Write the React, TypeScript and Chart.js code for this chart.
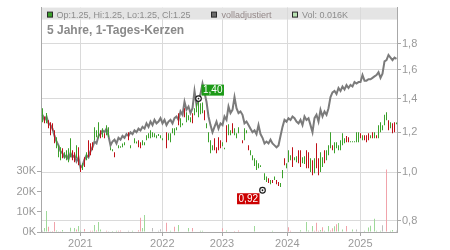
import React, { useEffect, useRef } from 'react';
import { Chart, registerables } from 'chart.js';

Chart.register(...registerables);

const FONT = '"Liberation Sans", Arial, Helvetica, sans-serif';

// ---- axis labels / texts ----
const yearLabels = ['2021', '2022', '2023', '2024', '2025'];
const yearPos = [18.9, 59.9, 89.75, 122.4, 158.9]; // slot index where each year starts
const priceTicks = [0.8, 1.0, 1.2, 1.4, 1.6, 1.8];
const volTicks = [0, 10000, 20000, 30000];
const titleText = '5 Jahre, 1-Tages-Kerzen';
const legendOhlc = 'Op:1.25, Hi:1.25, Lo:1.25, Cl:1.25';
const legendAdj = 'volladjustiert';
const legendVol = 'Vol: 0.016K';

// ---- series (one slot ≈ a few trading days) ----
const adjusted = [
  1.30, 1.27, 1.29, 1.25, 1.24, 1.22, 1.18, 1.15, 1.13, 1.10,
  1.09, 1.07, 1.08, 1.06, 1.09, 1.07, 1.08, 1.05, 1.07, 1.02,
  1.03, 1.06, 1.08, 1.07, 1.10, 1.12, 1.15, 1.14, 1.18, 1.19,
  1.21, 1.20, 1.22, 1.18, 1.13, 1.15, 1.16, 1.14, 1.17, 1.16,
  1.18, 1.17, 1.19, 1.18, 1.20, 1.19, 1.21, 1.20, 1.22, 1.21,
  1.23, 1.22, 1.25, 1.23, 1.26, 1.24, 1.27, 1.25, 1.26, 1.28,
  1.25, 1.27, 1.24, 1.26, 1.27, 1.25, 1.28, 1.29, 1.27, 1.32,
  1.30, 1.38, 1.33, 1.35, 1.31, 1.34, 1.45, 1.36, 1.40, 1.43,
  1.50, 1.44, 1.38, 1.29, 1.24, 1.20, 1.23, 1.26, 1.22, 1.25,
  1.24, 1.29, 1.27, 1.35, 1.31, 1.33, 1.41, 1.34, 1.31, 1.32,
  1.30, 1.25, 1.26, 1.24, 1.22, 1.20, 1.21, 1.19, 1.24, 1.19,
  1.17, 1.14, 1.15, 1.14, 1.16, 1.14, 1.13, 1.12, 1.13, 1.18,
  1.23, 1.27, 1.26, 1.28, 1.27, 1.29, 1.28, 1.26, 1.25, 1.27,
  1.24, 1.29, 1.27, 1.28, 1.24, 1.20, 1.28, 1.30, 1.26, 1.33,
  1.29, 1.32, 1.30, 1.34, 1.41, 1.44, 1.45, 1.43, 1.47, 1.45,
  1.48, 1.46, 1.49, 1.47, 1.49, 1.48, 1.51, 1.50, 1.51, 1.51,
  1.56, 1.52, 1.52, 1.53, 1.53, 1.54, 1.55, 1.56, 1.58, 1.54,
  1.57, 1.66, 1.67, 1.71, 1.69, 1.67, 1.69, 1.68,
];

const candleHigh = [
  1.34, 1.29, 1.31, 1.268, 1.256, 1.25, 1.211, 1.173, 1.131, 1.12,
  1.115, 1.095, 1.105, 1.115, 1.168, 1.105, 1.095, 1.131, 1.12, 1.032,
  1.041, 1.07, 1.095, 1.157, 1.141, 1.146, 1.228, 1.211, 1.256, 1.211,
  1.222, 1.195, 1.239, 1.228, 1.12, 1.11, 1.095, null, 1.131, 1.125,
  1.14, 1.146, null, 1.20, 1.131, null, 1.168, 1.15, 1.157, 1.146,
  1.157, 1.146, 1.184, 1.195, 1.211, 1.20, 1.195, 1.184, 1.19, 1.184,
  1.168, null, 1.20, 1.195, 1.195, 1.222, 1.222, 1.228, 1.309, 1.28,
  1.25, 1.339, 1.315, 1.297, 1.285, 1.309, 1.339, 1.37, 1.40, 1.37,
  1.375, 1.327, 1.25, 1.20, 1.157, 1.131, 1.168, 1.12, 1.173, 1.157,
  1.146, 1.118, 1.239, 1.245, 1.211, 1.25, 1.222, 1.195, 1.228, null,
  1.157, 1.222, 1.211, 1.131, 1.105, 1.08, 1.065, 1.056, 1.041, 1.032,
  0.93, 0.995, 0.98, 0.972, 0.964, 0.964, 0.98, 0.964, 0.955, 0.951,
  1.009, 1.065, 1.041, 1.105, 1.08, 1.12, 1.07, 1.075, 1.105, 1.105,
  1.07, 1.075, 1.105, 1.095, 1.065, 1.056, 1.065, 1.141, 1.065, 1.095,
  1.07, 1.105, 1.105, 1.131, 1.20, 1.131, 1.146, 1.146, 1.131, 1.157,
  1.195, 1.168, 1.179, 1.173, 1.152, 1.152, 1.152, 1.20, 1.20, 1.195,
  1.184, 1.184, 1.184, 1.195, 1.184, 1.20, 1.20, 1.184, 1.239, 1.256,
  1.239, 1.30, 1.315, 1.268, 1.256, 1.25, 1.256, 1.255,
];

const candleLow = [
  1.256, 1.25, 1.25, 1.222, 1.184, 1.21, 1.141, 1.115, 1.07, 1.056,
  1.065, 1.065, 1.056, 1.046, 1.07, 1.056, 1.046, 1.065, 1.032, 1.0,
  1.009, 1.023, 1.056, 1.07, 1.08, 1.105, 1.157, 1.173, 1.168, 1.168,
  1.173, 1.168, 1.184, 1.173, 1.105, 1.10, 1.07, null, 1.115, 1.118,
  1.12, 1.131, null, 1.157, 1.115, null, 1.141, 1.14, 1.12, 1.115,
  1.131, 1.131, 1.157, 1.168, 1.168, 1.173, 1.173, 1.168, 1.179, 1.168,
  1.157, null, 1.115, 1.157, 1.146, 1.195, 1.184, 1.211, 1.239, 1.228,
  1.239, 1.285, 1.256, 1.268, 1.256, 1.25, 1.297, 1.315, 1.285, 1.303,
  1.309, 1.268, 1.222, 1.146, 1.09, 1.105, 1.105, 1.09, 1.105, 1.115,
  1.125, 1.11, 1.146, 1.184, 1.184, 1.195, 1.184, 1.168, 1.195, null,
  1.141, 1.157, 1.195, 1.105, 1.08, 1.056, 1.028, 1.009, 1.018, 1.023,
  0.92, 0.964, 0.955, 0.951, 0.946, 0.951, 0.964, 0.946, 0.938, 0.934,
  0.972, 1.032, 1.018, 1.046, 1.056, 1.023, 1.056, 1.046, 1.041, 1.023,
  1.041, 1.037, 1.018, 1.018, 1.0, 0.986, 0.995, 1.018, 0.986, 1.0,
  1.023, 1.041, 1.056, 1.08, 1.115, 1.105, 1.09, 1.115, 1.105, 1.105,
  1.131, 1.141, 1.146, 1.146, 1.146, 1.146, 1.146, 1.146, 1.146, 1.168,
  1.157, 1.157, 1.146, 1.157, 1.168, 1.168, 1.168, 1.168, 1.168, 1.20,
  1.211, 1.239, 1.268, 1.211, 1.222, 1.195, 1.20, 1.245,
];

// 1 = up (green), -1 = down (red), 0 = no trade
const candleDir = [
  1, -1, 1, -1, -1, -1, -1, 1, 1, 1,
  -1, 1, 1, 1, 1, -1, -1, 1, -1, -1,
  1, -1, 1, -1, -1, -1, 1, 1, 1, -1,
  1, -1, 1, 1, 1, 1, -1, 0, 1, 1,
  1, 1, 0, -1, 1, 0, 1, 1, -1, -1,
  1, 1, 1, 1, 1, 1, 1, 1, 1, 1,
  1, 0, -1, 1, 1, 1, 1, 1, -1, 1,
  1, -1, 1, 1, 1, -1, 1, 1, 1, 1,
  1, -1, 1, 1, 1, 1, -1, -1, -1, -1,
  1, 1, -1, 1, 1, -1, 1, 1, 1, 0,
  -1, 1, 1, -1, 1, 1, 1, 1, 1, 1,
  1, 1, 1, -1, 1, -1, 1, -1, -1, 1,
  1, -1, 1, 1, 1, -1, 1, 1, -1, -1,
  1, 1, -1, -1, 1, -1, 1, -1, -1, 1,
  1, -1, 1, 1, 1, -1, 1, 1, 1, 1,
  1, 1, -1, -1, 1, 1, 1, 1, 1, -1,
  1, -1, -1, -1, 1, -1, 1, -1, 1, 1,
  1, 1, 1, -1, 1, -1, -1, 1,
];

// volume bars (sparse): slot, amount, side (1 up, -1 down, 0 unchanged)
const volSlot = [
  0, 1, 2, 3, 4, 5, 6, 7, 8, 9, 10, 14, 16, 17, 18, 19, 21, 23, 24, 25,
  26, 27, 28, 29, 30, 32, 33, 35, 37, 38, 39, 40, 43, 44, 45, 47, 48, 49, 50, 51,
  54, 55, 56, 58, 59, 62, 63, 64, 66, 68, 73, 75, 79, 80, 83, 84, 90, 92, 96, 98,
  100, 103, 106, 113, 115, 116, 123, 124, 128, 129, 132, 133, 135, 136, 137, 138, 139, 140, 141, 143,
  144, 145, 146, 147, 148, 150, 152, 154, 155, 157, 161, 163, 164, 166, 167, 169, 170, 172, 174, 175,
  176, 177,
];
const volAmount = [
  600, 2000, 10400, 2600, 400, 500, 5000, 800, 400, 400, 1000, 2100, 2000, 1300, 3000, 600, 1500, 300, 600, 600,
  3500, 700, 5000, 1200, 300, 600, 400, 500, 600, 600, 700, 300, 600, 300, 600, 300, 900, 7000, 2000, 8400,
  300, 2000, 300, 600, 1400, 4600, 300, 600, 2600, 3500, 2000, 2000, 600, 600, 300, 300, 1800, 700, 500, 700,
  300, 300, 3000, 300, 600, 300, 2300, 600, 300, 900, 5000, 800, 3000, 600, 4600, 600, 1000, 2300, 600, 3000,
  800, 1800, 2800, 3800, 4500, 1200, 3000, 300, 1200, 1200, 600, 2200, 3100, 6600, 600, 600, 3400, 31000, 600, 1000,
  300, 600,
];
const volSide = [
  0, 1, 1, -1, 0, -1, -1, 1, 0, -1, 1, 1, 1, -1, 1, 1, -1, -1, -1, -1,
  1, -1, 1, 1, -1, -1, 0, 1, 1, -1, -1, 0, 0, -1, 1, -1, -1, -1, 1, 1,
  0, 0, 0, 0, 0, -1, 0, 1, -1, 1, 1, -1, 1, 1, 1, 1, -1, 1, -1, -1,
  -1, 0, 1, -1, 1, 1, -1, -1, -1, 1, 1, 1, 1, -1, -1, -1, 1, -1, 1, 1,
  -1, -1, 1, -1, 1, 1, -1, 0, 1, 0, 1, 1, 1, 1, 1, 1, 0, -1, 1, 1,
  0, 0,
];

const highMark = { slot: 78, value: 1.4, label: '1,40' };
const lowMark = { slot: 110, value: 0.92, label: '0,92' };

const GREEN = '#3ba12b';
const RED = '#bf1018';
const VOL_COLORS: Record<string, string> = { '1': '#9fd99a', '-1': '#f1a3ab', '0': '#bdbdbd' };
const GRID = '#dadada';
const AXIS = '#a8a8a8';
const TICK_TEXT = '#9a9a9a';

export default function App() {
  const ref = useRef<HTMLCanvasElement | null>(null);

  useEffect(() => {
    const canvas = ref.current;
    if (!canvas) return;

    const candleData: any[] = [];
    const candleColors: string[] = [];
    candleHigh.forEach((h, i) => {
      const l = candleLow[i];
      if (h == null || l == null || candleDir[i] === 0) return;
      candleData.push({ x: i, y: [l, h] });
      candleColors.push(candleDir[i] > 0 ? GREEN : RED);
    });
    const lineData = adjusted.map((v, i) => ({ x: i, y: v }));
    const volData = volSlot.map((s, k) => ({ x: s, y: volAmount[k] }));
    const volColors = volSide.map((s) => VOL_COLORS[String(s)]);

    const overlay = {
      id: 'overlay',
      afterDraw(chart: any) {
        const { ctx, chartArea: a, scales } = chart;
        const xs = scales.x;
        const ps = scales.price;
        ctx.save();
        // legend bar
        const lh = 12;
        ctx.fillStyle = '#e4e4e4';
        ctx.fillRect(a.left + 1, a.top, a.right - a.left - 1, lh);
        ctx.strokeStyle = GRID;
        ctx.lineWidth = 1;
        [3, 4].forEach((k) => {
          const px = Math.round(xs.getPixelForValue(yearPos[k]) - 0.5) + 0.5;
          ctx.beginPath();
          ctx.moveTo(px, a.top);
          ctx.lineTo(px, a.top + lh);
          ctx.stroke();
        });
        const square = (x: number, fill: string) => {
          ctx.fillStyle = fill;
          ctx.fillRect(x + 0.5, a.top + 4.5, 5, 5);
          ctx.strokeStyle = '#2a2a2a';
          ctx.lineWidth = 1;
          ctx.strokeRect(x + 0.5, a.top + 4.5, 5, 5);
        };
        ctx.font = '9px ' + FONT;
        ctx.textBaseline = 'alphabetic';
        ctx.textAlign = 'left';
        square(a.left + 6, GREEN);
        ctx.fillStyle = '#8c8c8c';
        ctx.fillText(legendOhlc, a.left + 15.5, a.top + 10);
        square(a.left + 170, '#6a6a6a');
        ctx.fillStyle = '#948888';
        ctx.fillText(legendAdj, a.left + 180.5, a.top + 10);
        square(a.left + 251, '#b9e3b3');
        ctx.fillStyle = '#8c8c8c';
        ctx.fillText(legendVol, a.left + 261, a.top + 10);

        // title
        ctx.font = 'bold 12px ' + FONT;
        ctx.fillStyle = '#8a8a8a';
        ctx.fillText(titleText, a.left + 6, a.top + 26.5);

        // high / low markers
        const mark = (m: any, color: string, above: boolean) => {
          const cx = xs.getPixelForValue(m.slot);
          const cy = ps.getPixelForValue(m.value);
          ctx.font = '10px ' + FONT;
          const w = ctx.measureText(m.label).width + 3;
          const h = 11;
          const bx = above ? cx + 3 : cx - 3 - w;
          const by = above ? cy - 3 - h : cy + 3;
          ctx.fillStyle = color;
          ctx.fillRect(bx, by, w, h);
          ctx.fillStyle = '#ffffff';
          ctx.textBaseline = 'middle';
          ctx.fillText(m.label, bx + 1.5, by + h / 2 + 0.5);
          ctx.beginPath();
          ctx.arc(cx, cy, 2.8, 0, Math.PI * 2);
          ctx.fillStyle = '#ffffff';
          ctx.fill();
          ctx.lineWidth = 1.2;
          ctx.strokeStyle = '#1a1a1a';
          ctx.stroke();
          ctx.beginPath();
          ctx.arc(cx, cy, 0.9, 0, Math.PI * 2);
          ctx.fillStyle = '#1a1a1a';
          ctx.fill();
        };
        mark(highMark, '#1c9a17', true);
        mark(lowMark, '#cc0000', false);
        ctx.restore();
      },
    };

    const tickFont = { family: FONT, size: 11 };

    const chart = new Chart(canvas, {
      type: 'bar',
      data: {
        datasets: [
          {
            type: 'bar',
            label: 'Kerzen',
            data: candleData,
            backgroundColor: candleColors,
            borderWidth: 0,
            barThickness: 1,
            inflateAmount: 0,
            grouped: false,
            yAxisID: 'price',
            xAxisID: 'x',
            order: 1,
          } as any,
          {
            type: 'line',
            label: 'volladjustiert',
            data: lineData,
            borderColor: '#7b7b7b',
            borderWidth: 2,
            pointRadius: 0,
            tension: 0,
            yAxisID: 'price',
            xAxisID: 'x',
            order: 2,
          } as any,
          {
            type: 'bar',
            label: 'Vol',
            data: volData,
            backgroundColor: volColors,
            borderWidth: 0,
            barThickness: 1,
            inflateAmount: 0,
            grouped: false,
            yAxisID: 'vol',
            xAxisID: 'x',
            order: 3,
          } as any,
        ],
      },
      options: {
        animation: false,
        responsive: false,
        maintainAspectRatio: false,
        devicePixelRatio: 1,
        layout: { padding: { top: 7, left: 0, right: 0, bottom: 0 } },
        plugins: { legend: { display: false }, tooltip: { enabled: false }, title: { display: false } },
        scales: {
          x: {
            type: 'linear',
            min: -0.75,
            max: 177.25,
            offset: false,
            afterBuildTicks: (s: any) => {
              s.ticks = yearPos.map((v) => ({ value: v }));
            },
            afterFit: (s: any) => {
              s.height = 18;
            },
            ticks: {
              autoSkip: false,
              maxRotation: 0,
              padding: 1,
              color: TICK_TEXT,
              font: tickFont,
              callback: (_v: any, i: number) => yearLabels[i],
            },
            grid: { color: GRID, tickColor: AXIS, tickLength: 4, offset: false },
            border: { color: AXIS },
          },
          vol: {
            type: 'linear',
            position: 'left',
            min: 0,
            max: 111200,
            afterBuildTicks: (s: any) => {
              s.ticks = volTicks.map((v) => ({ value: v }));
            },
            afterFit: (s: any) => {
              s.width = 41;
            },
            ticks: {
              padding: 1,
              color: TICK_TEXT,
              font: tickFont,
              callback: (v: any) => Math.round(Number(v) / 1000) + 'K',
            },
            grid: { drawOnChartArea: false, tickColor: AXIS, tickLength: 4 },
            border: { color: AXIS },
          },
          price: {
            type: 'logarithmic',
            position: 'right',
            min: 0.7598,
            max: 2.1245,
            afterBuildTicks: (s: any) => {
              s.ticks = priceTicks.map((v) => ({ value: v }));
            },
            afterFit: (s: any) => {
              s.width = 53;
            },
            ticks: {
              padding: 1,
              color: TICK_TEXT,
              font: tickFont,
              callback: (v: any) => Number(v).toFixed(1).replace('.', ','),
            },
            grid: { color: GRID, tickColor: AXIS, tickLength: 4 },
            border: { color: AXIS },
          },
        },
      } as any,
      plugins: [overlay],
    });

    return () => chart.destroy();
  }, []);

  return (
    <div style={{ position: 'absolute', left: 0, top: 0, width: 450, height: 250, background: '#ffffff' }}>
      <canvas ref={ref} width={450} height={250} style={{ display: 'block', width: 450, height: 250 }} />
    </div>
  );
}
